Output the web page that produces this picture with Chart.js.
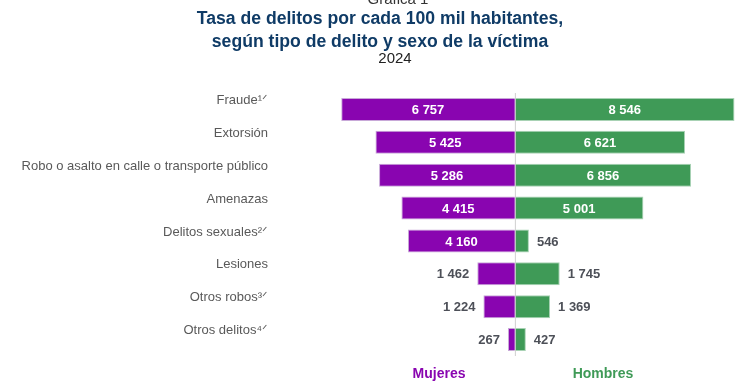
<!DOCTYPE html>
<html lang="es">
<head>
    <meta charset="UTF-8" />
    <title>Tasa de delitos por cada 100 mil habitantes</title>
    <script src="https://cdn.jsdelivr.net/npm/chart.js"></script>
    <style>
        html, body { margin: 0; padding: 0; background: #fff; }
        #chart { display: block; }
    </style>
</head>
<body>
    <canvas id="chart" width="753" height="386"></canvas>

    <script>
        // Datos de la gráfica
        const categorias = [
            'Fraude\u00b9\u141f',
            'Extorsión',
            'Robo o asalto en calle o transporte público',
            'Amenazas',
            'Delitos sexuales\u00b2\u141f',
            'Lesiones',
            'Otros robos\u00b3\u141f',
            'Otros delitos\u2074\u141f'
        ];
        const mujeres = [6757, 5425, 5286, 4415, 4160, 1462, 1224, 267];
        const hombres = [8546, 6621, 6856, 5001, 546, 1745, 1369, 427];

        const morado = '#8905b0';
        const verde = '#3f9a57';
        const fontFamily = '"Liberation Sans", Arial, sans-serif';

        const fmt = v => String(Math.abs(v)).replace(/\B(?=(\d{3})+(?!\d))/g, ' ');

        // titulos, linea central y etiquetas de valores
        const extras = {
            id: 'extras',
            afterDatasetsDraw(chart) {
                const ctx = chart.ctx;
                const x = chart.scales.x;
                const area = chart.chartArea;

                // linea en el cero
                const x0 = x.getPixelForValue(0);
                ctx.save();
                ctx.strokeStyle = '#cfcfcf';
                ctx.lineWidth = 1;
                ctx.beginPath();
                ctx.moveTo(x0 + 0.5, area.top);
                ctx.lineTo(x0 + 0.5, area.bottom);
                ctx.stroke();

                // etiquetas
                ctx.font = 'bold 13px ' + fontFamily;
                ctx.textBaseline = 'middle';
                chart.data.datasets.forEach((ds, di) => {
                    const meta = chart.getDatasetMeta(di);
                    meta.data.forEach((bar, i) => {
                        const txt = fmt(ds.data[i]);
                        const w = Math.abs(bar.x - bar.base);
                        if (w > 60) {
                            ctx.fillStyle = '#ffffff';
                            ctx.textAlign = 'center';
                            ctx.fillText(txt, (bar.x + bar.base) / 2, bar.y + 1);
                        } else {
                            ctx.fillStyle = '#4d5058';
                            if (bar.x < bar.base) {
                                ctx.textAlign = 'right';
                                ctx.fillText(txt, bar.x - 8, bar.y + 1);
                            } else {
                                ctx.textAlign = 'left';
                                ctx.fillText(txt, bar.x + 8, bar.y + 1);
                            }
                        }
                    });
                });

                // encabezado
                ctx.textAlign = 'center';
                ctx.textBaseline = 'alphabetic';
                ctx.fillStyle = '#333333';
                ctx.font = '15px ' + fontFamily;
                ctx.fillText('Gráfica 1', 398, 4);
                ctx.fillStyle = '#0f3b66';
                ctx.font = 'bold 17.6px ' + fontFamily;
                ctx.fillText('Tasa de delitos por cada 100 mil habitantes,', 380, 24);
                ctx.fillText('según tipo de delito y sexo de la víctima', 380, 47);
                ctx.fillStyle = '#222222';
                ctx.font = '15px ' + fontFamily;
                ctx.fillText('2024', 395, 63);

                // leyenda
                ctx.font = 'bold 14px ' + fontFamily;
                ctx.fillStyle = morado;
                ctx.fillText('Mujeres', 439, 378);
                ctx.fillStyle = verde;
                ctx.fillText('Hombres', 603, 378);
                ctx.restore();
            }
        };

        new Chart(document.getElementById('chart'), {
            type: 'bar',
            data: {
                labels: categorias,
                datasets: [
                    {
                        label: 'Mujeres',
                        data: mujeres.map(v => -v),
                        backgroundColor: morado,
                        borderColor: '#c8a8d8',
                        borderWidth: 1,
                        categoryPercentage: 0.7,
                        barPercentage: 1
                    },
                    {
                        label: 'Hombres',
                        data: hombres,
                        backgroundColor: verde,
                        borderColor: '#a8d2b4',
                        borderWidth: 1,
                        categoryPercentage: 0.7,
                        barPercentage: 1
                    }
                ]
            },
            options: {
                indexAxis: 'y',
                responsive: false,
                animation: false,
                layout: { padding: { left: 0, top: 93, right: 12, bottom: 30 } },
                plugins: {
                    legend: { display: false },
                    title: { display: false },
                    tooltip: { enabled: false }
                },
                scales: {
                    x: {
                        display: false,
                        stacked: true,
                        min: -7000,
                        max: 8800
                    },
                    y: {
                        stacked: true,
                        border: { display: false },
                        grid: { display: false, drawTicks: true, tickLength: 67 },
                        afterFit(scale) { scale.width = 335; },
                        ticks: {
                            color: '#595959',
                            font: { family: fontFamily, size: 13 },
                            padding: 0,
                            labelOffset: -9
                        }
                    }
                }
            },
            plugins: [extras]
        });
    </script>
</body>
</html>
